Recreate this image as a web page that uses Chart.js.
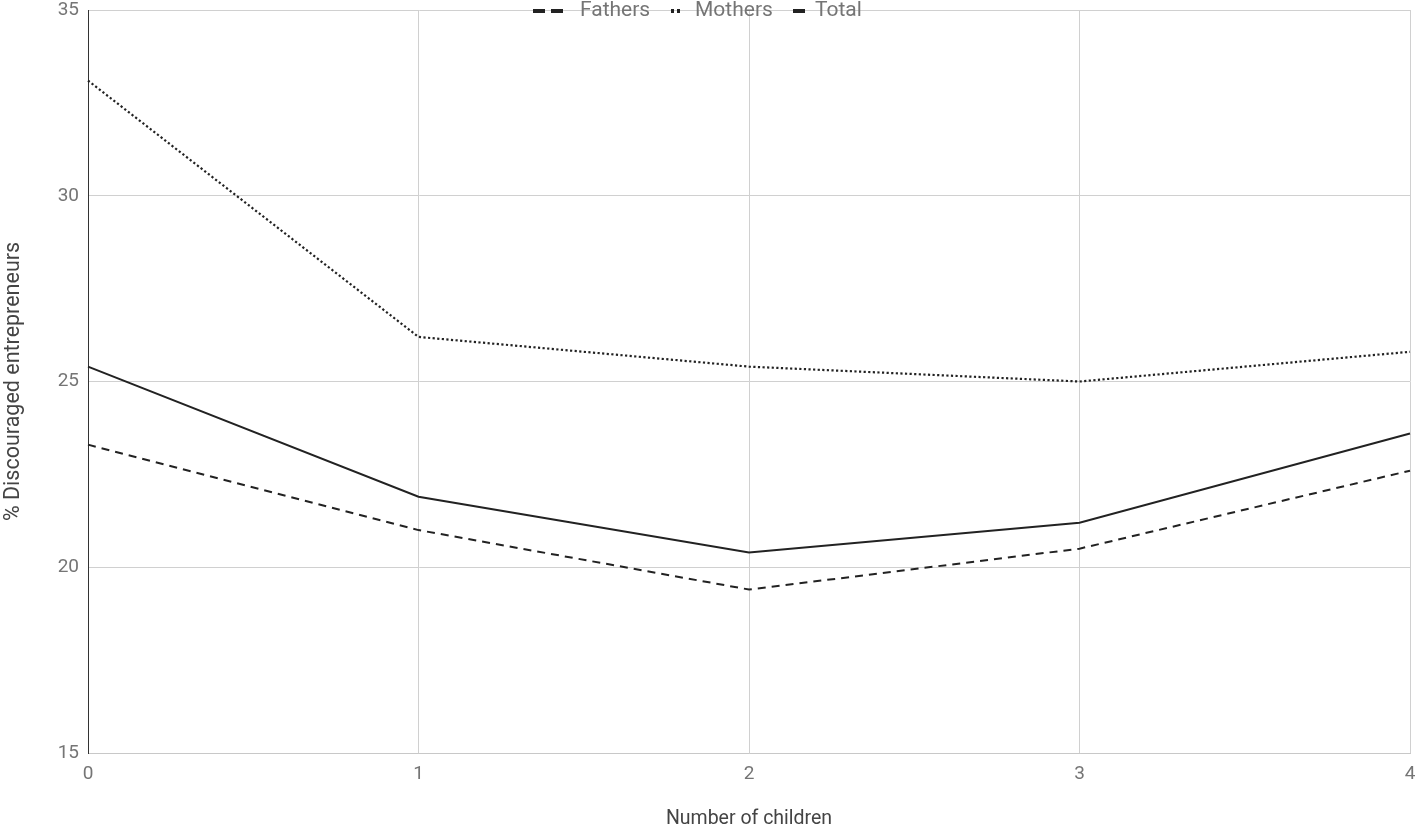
<!DOCTYPE html>
<html>
<head>
<meta charset="utf-8">
<script src="https://cdn.jsdelivr.net/npm/chart.js@4/dist/chart.umd.min.js"></script>
<style>
  html, body { margin: 0; padding: 0; background: #fff; }
  #wrap { width: 1418px; height: 827px; }
</style>
</head>
<body>
<div id="wrap"><canvas id="kids"></canvas></div>
<script>
var children = ["0", "1", "2", "3", "4"];
var fathers = [23.3, 21.0, 19.4, 20.5, 22.6];
var mothers = [33.1, 26.2, 25.4, 25.0, 25.8];
var total = [25.4, 21.9, 20.4, 21.2, 23.6];

var lineColor = "#222";
var greyText = "#757575";

// legend sits on top of the first grid line, so it is drawn by hand
var legendOnTop = {
    id: "legendOnTop",
    afterDraw: function (chart) {
        var ctx = chart.ctx;
        var y = 11;
        ctx.save();
        ctx.font = "21px Roboto";
        ctx.textBaseline = "middle";
        ctx.fillStyle = greyText;
        ctx.strokeStyle = lineColor;
        ctx.lineWidth = 4;
        var items = [
            { x: 533, w: 34, dash: [12, 6], tx: 580 },
            { x: 671, w: 9, dash: [3, 3], tx: 695 },
            { x: 793, w: 12, dash: [], tx: 815 }
        ];
        chart.data.datasets.forEach(function (ds, i) {
            var it = items[i];
            ctx.setLineDash(it.dash);
            ctx.beginPath();
            ctx.moveTo(it.x, y);
            ctx.lineTo(it.x + it.w, y);
            ctx.stroke();
            ctx.fillText(ds.label, it.tx, y);
        });
        ctx.restore();
    }
};

new Chart("kids", {
    type: "line",
    data: {
        labels: children,
        datasets: [{
            label: "Fathers",
            data: fathers,
            borderColor: lineColor,
            borderWidth: 2,
            borderDash: [8, 6],
            pointRadius: 0,
            tension: 0
        }, {
            label: "Mothers",
            data: mothers,
            borderColor: lineColor,
            borderWidth: 2.2,
            borderDash: [2.2, 2.4],
            pointRadius: 0,
            tension: 0
        }, {
            label: "Total",
            data: total,
            borderColor: lineColor,
            borderWidth: 2,
            pointRadius: 0,
            tension: 0
        }]
    },
    options: {
        responsive: true,
        maintainAspectRatio: false,
        animation: false,
        layout: { padding: { top: 10, right: 8, left: 0, bottom: 0 } },
        plugins: {
            legend: { display: false },
            tooltip: { enabled: false }
        },
        scales: {
            x: {
                grid: { color: "#d0d0d0", drawTicks: false },
                border: { color: "#c8c8c8" },
                ticks: { color: greyText, font: { family: "Roboto", size: 19 }, padding: 10 },
                title: {
                    display: true,
                    text: "Number of children",
                    color: "#444",
                    font: { family: "Roboto", size: 19.5, lineHeight: 1 },
                    padding: { top: 0, bottom: -2 }
                },
                afterFit: function (s) {
                    s.height = 74;
                    s.paddingLeft = 0;
                    s.paddingRight = 0;
                }
            },
            y: {
                min: 15,
                max: 35,
                grid: { color: "#d0d0d0", drawTicks: false },
                border: { color: "#333" },
                ticks: { stepSize: 5, color: greyText, font: { family: "Roboto", size: 19 }, padding: 9 },
                title: {
                    display: true,
                    text: "% Discouraged entrepreneurs",
                    color: "#444",
                    font: { family: "Roboto", size: 21.5, lineHeight: 1 },
                    padding: { top: 3, bottom: 0 }
                },
                afterFit: function (s) {
                    s.width = 88;
                    s.paddingTop = 0;
                    s.paddingBottom = 0;
                }
            }
        }
    },
    plugins: [legendOnTop]
});
</script>
</body>
</html>
